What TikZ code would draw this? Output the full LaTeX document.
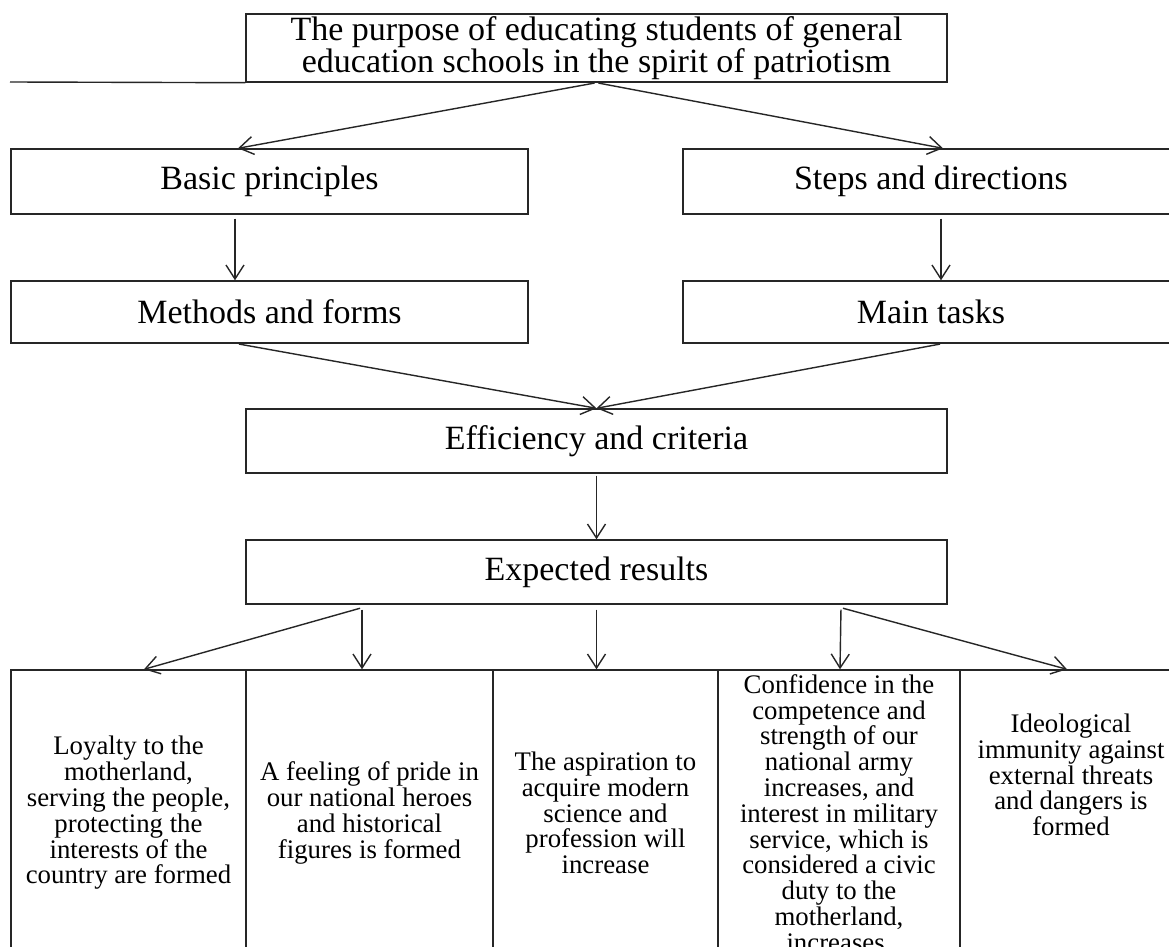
\documentclass[tikz,border=0pt]{standalone}
\usepackage{fontspec}
\setmainfont{Liberation Serif}
\usepackage{tikz}
\usetikzlibrary{arrows.meta,calc}

\begin{document}
\begin{tikzpicture}[x=0.5pt,y=-0.5pt,
  box/.style={draw=black!85, line width=0.7pt, inner sep=0pt, align=center, font=\fontsize{17}{16}\selectfont},
  cell/.style={draw=black!85, line width=0.7pt, inner sep=0pt, minimum height=143pt},
  celltext/.style={inner sep=0pt, align=center, font=\fontsize{13.4}{12.9}\selectfont},
  arr/.style={draw=black!85, line width=0.7pt, shorten <=1pt, -{Straight Barb[length=7pt,width=9pt]}}]
\useasboundingbox (0,0) rectangle (1169,947);
\fill[white] (0,0) rectangle (1169,947);
\clip (0,0) rectangle (1169,947);

\node[box, minimum width=350.5pt, minimum height=34pt] (purpose) at (596.5,48) {The purpose of educating students of general\\education schools in the spirit of patriotism};
\coordinate (stub) at (10,82);
\draw[draw=black!85, line width=0.7pt] (stub) -- (purpose.south west);

\node[box, minimum width=258.5pt, minimum height=32.5pt] (basic) at (269.5,181.5) {Basic principles};
\node[box, minimum width=248pt, minimum height=32.5pt] (steps) at (931,181.5) {Steps and directions};
\node[box, minimum width=258.5pt, minimum height=31pt] (methods) at (269.5,312) {Methods and forms};
\node[box, minimum width=248pt, minimum height=31pt] (tasks) at (931,312) {Main tasks};
\node[box, minimum width=350.5pt, minimum height=32pt] (eff) at (596.5,441) {Efficiency and criteria};
\node[box, minimum width=350.5pt, minimum height=32pt] (expect) at (596.5,572) {Expected results};

\node[cell, minimum width=117.5pt] (c1) at (128.5,813) {};
\node[cell, minimum width=123.5pt] (c2) at (369.5,813) {};
\node[cell, minimum width=112.5pt] (c3) at (605.5,813) {};
\node[cell, minimum width=121pt] (c4) at (839,813) {};
\node[cell, minimum width=111pt] (c5) at (1071,813) {};

\node[celltext] (t1) at (128.5,813) {Loyalty to the\\motherland,\\serving the people,\\protecting the\\interests of the\\country are formed};
\node[celltext] (t2) at (369.5,813) {A feeling of pride in\\our national heroes\\and historical\\figures is formed};
\node[celltext] (t3) at (605.5,813) {The aspiration to\\acquire modern\\science and\\profession will\\increase};
\node[celltext] (t4) at (839,813) {Confidence in the\\competence and\\strength of our\\national army\\increases, and\\interest in military\\service, which is\\considered a civic\\duty to the\\motherland,\\increases.};
\node[celltext] (t5) at (1071,775) {Ideological\\immunity against\\external threats\\and dangers is\\formed};

\draw[arr] (purpose.south) -- ($(basic.north)+(-31.5,0)$);
\draw[arr] (purpose.south) -- ($(steps.north)+(12,0)$);
\draw[arr] ($(basic.south)+(-34.5,2)$) -- ($(methods.north)+(-34.5,0)$);
\draw[arr] ($(steps.south)+(10,2)$) -- ($(tasks.north)+(10,0)$);
\draw[arr] ($(methods.south)+(-32.5,0)$) -- (eff.north);
\draw[arr] ($(tasks.south)+(11,0)$) -- (eff.north);
\draw[arr] (eff.south) -- (expect.north);
\draw[arr] ($(expect.south)+(-234.5,3)$) -- ($(c1.north)+(15.5,0)$);
\draw[arr] ($(expect.south)+(-234.5,3)$) -- ($(c2.north)+(-7.5,0)$);
\draw[arr] ($(expect.south)+(0,3)$) -- ($(c3.north)+(-9,0)$);
\draw[arr] ($(expect.south)+(244.5,3)$) -- ($(c4.north)+(1,0)$);
\draw[arr] ($(expect.south)+(244.5,3)$) -- ($(c5.north)+(-4,0)$);
\end{tikzpicture}
\end{document}
